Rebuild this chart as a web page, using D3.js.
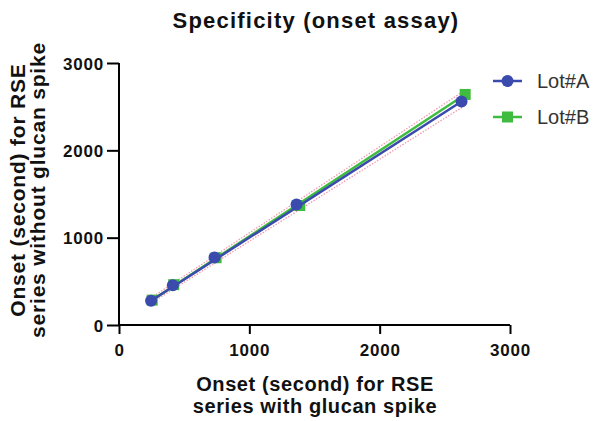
<!DOCTYPE html>
<meta charset="utf-8">
<body style="margin:0;background:#fff">
<div id="graph"></div>
<script src="https://d3js.org/d3.v7.min.js"></script>
<script>
// values
var lotA_x = [246, 413, 733, 1362, 2628];
var lotA_y = [278, 454, 774, 1379, 2560];
var lotB_x = [255, 420, 745, 1387, 2656];
var lotB_y = [285, 462, 770, 1368, 2640];
// dotted pink band (x, lower, upper)
var band_x = [246, 2656];
var band_lo = [250, 2515];
var band_hi = [310, 2690];
var xTicks = [0, 1000, 2000, 3000];
var yTicks = [0, 1000, 2000, 3000];

var W = 595, H = 421;
var margin = {top: 63, left: 119},
  width = 391, height = 262;

var svg = d3.select("#graph").append("svg")
  .attr("width", W).attr("height", H)
  .style("font-family", "Liberation Sans, Arial, sans-serif");

var g = svg.append("g").attr("transform", "translate(" + margin.left + "," + margin.top + ")");

var x = d3.scaleLinear().domain([0, 3000]).range([0, width]);
var y = d3.scaleLinear().domain([0, 3000]).range([height, 0]);

var line = d3.line().x(function(d) { return x(d[0]); }).y(function(d) { return y(d[1]); });

// confidence band
[band_lo, band_hi].forEach(function(b) {
  g.append("path")
    .datum(band_x.map(function(v, i) { return [v, b[i]]; }))
    .attr("d", line)
    .attr("fill", "none")
    .attr("stroke", "#f29aae")
    .attr("stroke-width", 1.3)
    .attr("stroke-dasharray", "1.5,1.5");
});

var series = [
  {name: "Lot#A", xs: lotA_x, ys: lotA_y, color: "#3a4aad", shape: "circle"},
  {name: "Lot#B", xs: lotB_x, ys: lotB_y, color: "#3fbb3f", shape: "square"}
];

// draw B first so A sits on top
series.slice().reverse().forEach(function(s) {
  var pts = s.xs.map(function(v, i) { return [v, s.ys[i]]; });
  g.append("path").datum([pts[0], pts[pts.length - 1]])
    .attr("d", line).attr("fill", "none")
    .attr("stroke", s.color).attr("stroke-width", 2.5);
  pts.forEach(function(p) {
    if (s.shape == "circle") {
      g.append("circle").attr("cx", x(p[0])).attr("cy", y(p[1])).attr("r", 6).attr("fill", s.color);
    } else {
      g.append("rect").attr("x", x(p[0]) - 5.5).attr("y", y(p[1]) - 5.5)
        .attr("width", 11).attr("height", 11).attr("fill", s.color);
    }
  });
});

// axes
var fmt = d3.format("d");
var xAxis = g.append("g").attr("transform", "translate(0," + height + ")")
  .call(d3.axisBottom(x).tickValues(xTicks).tickFormat(fmt).tickSize(9).tickPadding(7));
var yAxis = g.append("g")
  .call(d3.axisLeft(y).tickValues(yTicks).tickFormat(fmt).tickSize(12).tickPadding(3));
[xAxis, yAxis].forEach(function(a) {
  a.select(".domain").attr("stroke-width", 2);
  a.selectAll(".tick line").attr("stroke-width", 2);
  a.selectAll("text").style("font-size", "17px").style("font-weight", "bold")
    .style("letter-spacing", "0.8px").attr("fill", "#111");
});
xAxis.select(".domain").attr("d", "M-1,0H" + width);
yAxis.select(".domain").attr("d", "M0," + (height + 1) + "V0");
xAxis.selectAll(".tick text").attr("dy", "0.9em");
yAxis.selectAll(".tick text").attr("dy", "0.36em");

// title
svg.append("text").attr("x", 316).attr("y", 28).attr("text-anchor", "middle")
  .style("font-size", "22px").style("font-weight", "bold").style("letter-spacing", "1.2px")
  .attr("fill", "#111").text("Specificity (onset assay)");

// x label
svg.append("text").attr("x", 315).attr("y", 391).attr("text-anchor", "middle")
  .style("font-size", "20px").style("font-weight", "bold").style("letter-spacing", "0.6px")
  .attr("fill", "#111").text("Onset (second) for RSE");
svg.append("text").attr("x", 315).attr("y", 413).attr("text-anchor", "middle")
  .style("font-size", "20px").style("font-weight", "bold").style("letter-spacing", "0.6px")
  .attr("fill", "#111").text("series with glucan spike");

// y label
var yl = svg.append("text").attr("transform", "translate(25,190) rotate(-90)")
  .attr("text-anchor", "middle").style("font-size", "21px").style("font-weight", "bold")
  .style("letter-spacing", "0.8px").attr("fill", "#111");
yl.append("tspan").attr("x", 0).attr("y", 0).text("Onset (second) for RSE");
yl.append("tspan").attr("x", 0).attr("y", 20).text("series without glucan spike");

// legend
series.forEach(function(s, i) {
  var ly = 81 + i * 36;
  svg.append("line").attr("x1", 493).attr("x2", 522).attr("y1", ly).attr("y2", ly)
    .attr("stroke", s.color).attr("stroke-width", 2.5);
  if (s.shape == "circle") {
    svg.append("circle").attr("cx", 507.5).attr("cy", ly).attr("r", 6).attr("fill", s.color);
  } else {
    svg.append("rect").attr("x", 502).attr("y", ly - 5.5).attr("width", 11).attr("height", 11).attr("fill", s.color);
  }
  svg.append("text").attr("x", 537).attr("y", ly + 7).style("font-size", "20px").attr("fill", "#333").text(s.name);
});
</script>
</body>
